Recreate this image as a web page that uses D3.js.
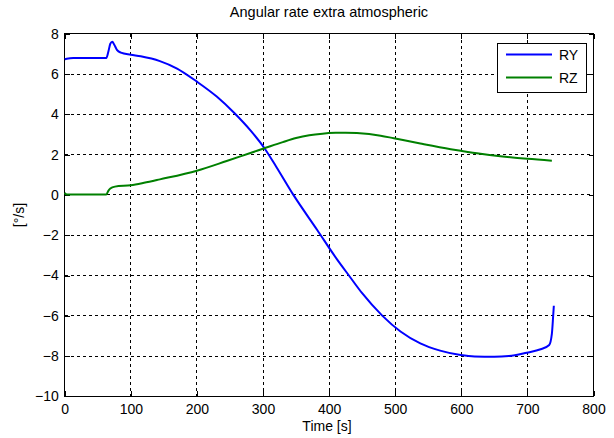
<!DOCTYPE html>
<html>
<head>
<meta charset="utf-8">
<script src="https://cdn.jsdelivr.net/npm/d3@7"></script>
<style>
  html, body { margin: 0; padding: 0; background: #fff; }
  svg { display: block; }
  text { font-family: "Liberation Sans", Arial, sans-serif; fill: #000; }
</style>
</head>
<body>
<svg id="chart" width="614" height="438"></svg>
<script>
// Angular rate samples (time in seconds, rate in deg/s)
const ryTime = [0, 3, 13, 63, 66, 69, 72, 75, 79, 85, 100, 115, 144, 170, 200, 230, 257, 281, 303, 320, 346, 382, 412, 430, 450, 480, 508, 538, 568, 599, 620, 650, 672, 699, 720, 733, 737, 739, 740];
const ryValues = [6.73, 6.76, 6.79, 6.79, 7.1, 7.5, 7.6, 7.45, 7.2, 7.06, 6.96, 6.88, 6.64, 6.27, 5.62, 4.88, 4.05, 3.2, 2.28, 1.4, 0.0, -1.74, -3.2, -4.0, -4.88, -5.98, -6.78, -7.37, -7.73, -7.95, -8.02, -8.03, -8.0, -7.83, -7.66, -7.45, -6.9, -6.0, -5.5];

const rzTime = [0, 2, 5, 63, 66, 69, 76, 100, 120, 144, 200, 245, 281, 301, 330, 350, 370, 390, 410, 425, 442, 478, 498, 538, 584, 599, 629, 659, 700, 737];
const rzValues = [0.1, 0.03, 0.02, 0.02, 0.2, 0.32, 0.41, 0.48, 0.6, 0.77, 1.2, 1.68, 2.08, 2.3, 2.62, 2.82, 2.96, 3.04, 3.08, 3.09, 3.07, 2.94, 2.81, 2.55, 2.27, 2.19, 2.04, 1.92, 1.79, 1.7];

const xTicks = [0, 100, 200, 300, 400, 500, 600, 700, 800];
const yTicks = [-10, -8, -6, -4, -2, 0, 2, 4, 6, 8];

const seriesNames = ["RY", "RZ"];
const seriesColors = ["#0000ff", "#008000"];

const svg = d3.select("#chart");
const plotLeft = 64.7, plotRight = 593.5, plotTop = 33.7, plotBottom = 396.4;

const x = d3.scaleLinear().domain([0, 800]).range([plotLeft, plotRight]);
const y = d3.scaleLinear().domain([-10, 8]).range([plotBottom, plotTop]);

// Grid
const grid = svg.append("g").attr("stroke", "#000").attr("stroke-width", 1)
  .attr("stroke-dasharray", "3,3").attr("shape-rendering", "crispEdges");
xTicks.slice(1, -1).forEach(t => {
  grid.append("line").attr("x1", x(t)).attr("x2", x(t)).attr("y1", plotTop).attr("y2", plotBottom);
});
yTicks.slice(1, -1).forEach(t => {
  grid.append("line").attr("x1", plotLeft).attr("x2", plotRight).attr("y1", y(t)).attr("y2", y(t));
});

// Axes with inward ticks
const tick = 5;
const xb = svg.append("g").attr("transform", `translate(0,${plotBottom})`)
  .call(d3.axisBottom(x).tickValues(xTicks).tickSizeInner(-tick).tickSizeOuter(0).tickPadding(8));
const xt = svg.append("g").attr("transform", `translate(0,${plotTop})`)
  .call(d3.axisTop(x).tickValues(xTicks).tickSizeInner(-tick).tickSizeOuter(0).tickFormat(""));
const yl = svg.append("g").attr("transform", `translate(${plotLeft},0)`)
  .call(d3.axisLeft(y).tickValues(yTicks).tickSizeInner(-tick).tickSizeOuter(0).tickPadding(6));
const yr = svg.append("g").attr("transform", `translate(${plotRight},0)`)
  .call(d3.axisRight(y).tickValues(yTicks).tickSizeInner(-tick).tickSizeOuter(0).tickFormat(""));
[xb, xt, yl, yr].forEach(g => {
  g.select(".domain").remove();
  g.selectAll("line").attr("stroke", "#000").attr("shape-rendering", "crispEdges");
  g.selectAll("text").attr("font-size", 14).attr("font-family", "Liberation Sans, Arial, sans-serif").attr("fill", "#000");
});

// Frame
svg.append("rect").attr("x", plotLeft).attr("y", plotTop)
  .attr("width", plotRight - plotLeft).attr("height", plotBottom - plotTop)
  .attr("fill", "none").attr("stroke", "#000").attr("stroke-width", 1)
  .attr("shape-rendering", "crispEdges");

// Series lines
const line = d3.line().x(d => x(d[0])).y(d => y(d[1])).curve(d3.curveMonotoneX);
const ryData = d3.zip(ryTime, ryValues);
const rzData = d3.zip(rzTime, rzValues);
[ryData, rzData].forEach((data, i) => {
  svg.append("path").datum(data).attr("d", line)
    .attr("fill", "none").attr("stroke", seriesColors[i]).attr("stroke-width", 2)
    .attr("stroke-linejoin", "round");
});

// Title and axis labels
svg.append("text").attr("x", 329).attr("y", 17).attr("text-anchor", "middle")
  .attr("font-size", 14.5).text("Angular rate extra atmospheric");
svg.append("text").attr("x", 327).attr("y", 431).attr("text-anchor", "middle")
  .attr("font-size", 14).text("Time [s]");
svg.append("text").attr("transform", "translate(24,215) rotate(-90)").attr("text-anchor", "middle")
  .attr("font-size", 14).text("[°/s]");

// Legend
const lg = svg.append("g");
lg.append("rect").attr("x", 497).attr("y", 43).attr("width", 89).attr("height", 49)
  .attr("fill", "#fff").attr("stroke", "#000").attr("shape-rendering", "crispEdges");
seriesNames.forEach((name, i) => {
  const ly = 54.5 + i * 23;
  lg.append("line").attr("x1", 506).attr("x2", 552).attr("y1", ly).attr("y2", ly)
    .attr("stroke", seriesColors[i]).attr("stroke-width", 2);
  lg.append("text").attr("x", 559).attr("y", ly + 5).attr("font-size", 14).text(name);
});
</script>
</body>
</html>
